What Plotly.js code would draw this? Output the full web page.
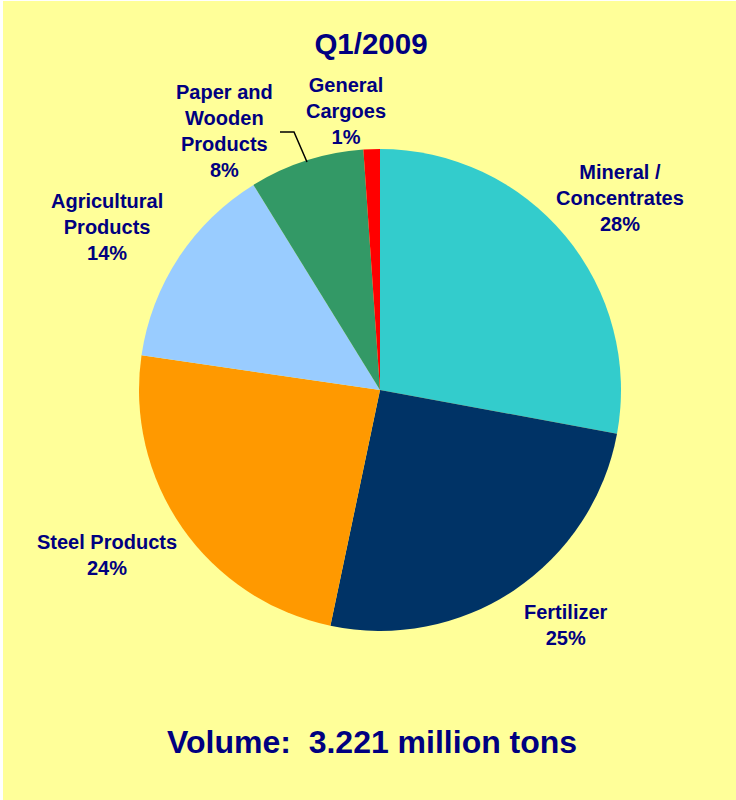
<!DOCTYPE html>
<html>
<head>
<meta charset="utf-8">
<script src="https://cdn.plot.ly/plotly-3.0.1.min.js"></script>
<style>
  html, body { margin: 0; padding: 0; background: #ffffff; }
  #chart { position: absolute; left: 3px; top: 1px; width: 733px; height: 799px; }
</style>
</head>
<body>
<div id="chart"></div>
<script>
// ---- data ----
const categories = ["Mineral /<br>Concentrates", "Fertilizer", "Steel Products", "Agricultural<br>Products", "Paper and<br>Wooden<br>Products", "General<br>Cargoes"];
const shares = [27.9, 25.4, 24.0, 13.9, 7.7, 1.1];
const sliceColors = ["#33CCCC", "#003366", "#FF9900", "#99CCFF", "#339966", "#FF0000"];
const chartTitle = "Q1/2009";
const footerText = "Volume:\u00a0 3.221 million tons";

// ---- layout helpers (pixel -> paper) ----
const W = 733, H = 799, OX = 3, OY = 1;
const px = X => (X - OX) / W;
const py = Y => 1 - (Y - OY) / H;

// label block centres (pixels), in the same order as categories
const labelPos = [[620, 198], [566, 625], [107, 555], [107, 227], [225, 131], [346, 111]];

const total = shares.reduce((a, b) => a + b, 0);
const navy = "#000080";
const font = "'Liberation Sans', Arial, sans-serif";

const annotations = categories.map((c, i) => ({
  text: "<b>" + c + "<br>" + Math.round(shares[i] / total * 100) + "%</b>",
  x: px(labelPos[i][0]), y: py(labelPos[i][1]),
  xref: "paper", yref: "paper", xanchor: "center", yanchor: "middle",
  showarrow: false, align: "center",
  font: { family: font, size: 20, color: navy }
}));
annotations.push({
  text: "<b>" + footerText + "</b>",
  x: px(372), y: py(742), xref: "paper", yref: "paper",
  xanchor: "center", yanchor: "middle", showarrow: false,
  font: { family: font, size: 32, color: navy }
});

const trace = {
  type: "pie",
  values: shares,
  labels: categories,
  marker: { colors: sliceColors, line: { width: 0 } },
  sort: false,
  direction: "clockwise",
  rotation: 0,
  textinfo: "none",
  hoverinfo: "none",
  showlegend: false,
  domain: { x: [px(139), px(621)], y: [py(631), py(149)] }
};

const layout = {
  width: W, height: H,
  margin: { l: 0, r: 0, t: 0, b: 0 },
  paper_bgcolor: "#FFFF99",
  plot_bgcolor: "#FFFF99",
  title: {
    text: "<b>" + chartTitle + "</b>",
    x: px(371), y: py(44), xanchor: "center", yanchor: "middle",
    font: { family: font, size: 29.5, color: navy }
  },
  annotations: annotations,
  shapes: [{
    type: "path", xref: "paper", yref: "paper",
    path: "M " + px(280) + " " + py(132) + " L " + px(294) + " " + py(132) + " L " + px(307) + " " + py(162),
    line: { color: "#000000", width: 1.5 }
  }]
};

Plotly.newPlot("chart", [trace], layout, { displayModeBar: false, staticPlot: true });
</script>
</body>
</html>
